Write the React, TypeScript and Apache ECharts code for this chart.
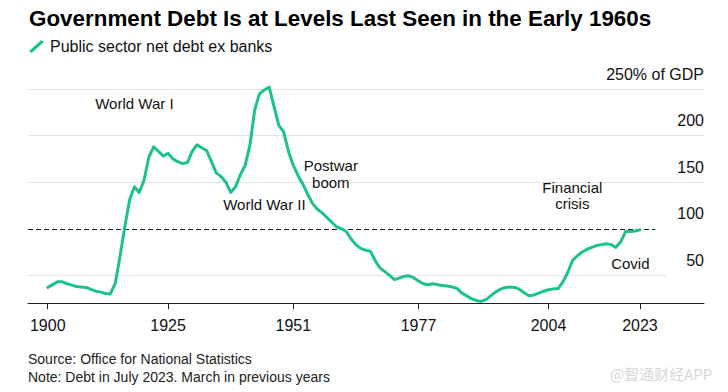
import React, { useEffect, useRef } from "react";
import * as echarts from "echarts";

const chartTitle = "Government Debt Is at Levels Last Seen in the Early 1960s";
const seriesName = "Public sector net debt ex banks";
const sourceText = "Source: Office for National Statistics";
const noteText = "Note: Debt in July 2023. March in previous years";
const watermarkText = "@智通财经APP";

const years = [
  1900, 1901, 1902, 1903, 1904, 1905, 1906, 1907, 1908, 1909,
  1910, 1911, 1912, 1913, 1914, 1915, 1916, 1917, 1918, 1919,
  1920, 1921, 1922, 1923, 1924, 1925, 1926, 1927, 1928, 1929,
  1930, 1931, 1932, 1933, 1934, 1935, 1936, 1937, 1938, 1939,
  1940, 1941, 1942, 1943, 1944, 1945, 1946, 1947, 1948, 1949,
  1950, 1951, 1952, 1953, 1954, 1955, 1956, 1957, 1958, 1959,
  1960, 1961, 1962, 1963, 1964, 1965, 1966, 1967, 1968, 1969,
  1970, 1971, 1972, 1973, 1974, 1975, 1976, 1977, 1978, 1979,
  1980, 1981, 1982, 1983, 1984, 1985, 1986, 1987, 1988, 1989,
  1990, 1991, 1992, 1993, 1994, 1995, 1996, 1997, 1998, 1999,
  2000, 2001, 2002, 2003, 2004, 2005, 2006, 2007, 2008, 2009,
  2010, 2011, 2012, 2013, 2014, 2015, 2016, 2017, 2018, 2019,
  2020, 2021, 2022, 2023,
];

const debtPctGdp = [
  37, 40, 43, 43, 41, 39.5, 38, 37.5, 37, 35,
  33, 32, 30.5, 30, 41, 70, 102, 131, 145, 139,
  152, 177, 188, 183, 178, 181, 175, 172, 170, 171,
  183, 190, 187, 184, 172, 160, 156, 150, 139, 145,
  158, 168, 190, 228, 245, 249, 252, 231, 211, 204,
  183, 168, 157, 148, 137, 127, 121, 117, 112, 107,
  102, 100, 97, 89, 83, 79, 77, 76, 66, 58,
  54, 50, 45.5, 47, 49, 49.5, 47.5, 44, 41, 40,
  41, 40, 39, 38.5, 37.5, 36, 31, 28, 25, 23,
  22, 24, 28, 32, 35, 37, 37.5, 37, 35, 31,
  28, 29, 31, 33, 34.5, 35.5, 35.7, 43, 53, 66,
  71, 75, 78, 80, 82, 83, 84, 83, 80, 86,
  97, 97, 97.5, 99,
];

const xTickYears = [1900, 1925, 1951, 1977, 2004, 2023];
const yLabelValues = [50, 100, 150, 200, 250];
const gridLineValues = [50, 150, 200, 250];
const referenceLevel = 100;

const annotationNames = ["World War I", "World War II", "Postwar\nboom", "Financial\ncrisis", "Covid"];
const annotationYears = [1918, 1945, 1958.8, 2008.95, 2021];
const annotationValues = [234.7, 126.5, 158.7, 135.7, 63.2];

const GREEN = "#1dc28b";
const FONT = "'Liberation Sans', Arial, Helvetica, sans-serif";
const X_MIN = 1895.9;
const X_MAX = 2036.3;
const GRID50_END = 2028.4;
const DASH_END = 2026.2;

export default function App() {
  const ref = useRef<HTMLDivElement>(null);

  useEffect(() => {
    if (!ref.current) return;
    const chart = echarts.init(ref.current, undefined, { renderer: "svg" });

    const lineData = years.map((y, i) => [y, debtPctGdp[i]]);

    const markLineData: any[] = gridLineValues.map((v) => [
      { coord: [X_MIN, v], lineStyle: { color: "#e3e3e3", width: 1, type: "solid" } },
      { coord: [v === 50 ? GRID50_END : X_MAX, v] },
    ]);
    markLineData.push([
      { coord: [X_MIN, referenceLevel], lineStyle: { color: "#222", width: 1.2, type: [5, 3] } },
      { coord: [DASH_END, referenceLevel] },
    ]);

    const option: any = {
      animation: false,
      textStyle: { fontFamily: FONT },
      grid: { left: 28, right: 24, top: 89, bottom: 88.7, containLabel: false },
      legend: {
        show: true,
        data: [seriesName],
        left: 29,
        top: 38.5,
        padding: 0,
        selectedMode: false,
        icon: "path://M0,11 L2.6,13 L15,2 L12.4,0 Z",
        itemWidth: 15,
        itemHeight: 13,
        itemStyle: { color: GREEN, borderWidth: 0 },
        textStyle: { fontSize: 16, color: "#111", fontFamily: FONT, padding: [0, 0, 0, 1] },
      },
      xAxis: {
        type: "value",
        min: X_MIN,
        max: X_MAX,
        axisLine: { show: true, onZero: false, lineStyle: { color: "#222", width: 1 } },
        axisTick: { show: true, customValues: xTickYears, length: 6, lineStyle: { color: "#222" } },
        axisLabel: {
          customValues: xTickYears,
          margin: 14,
          fontSize: 16,
          color: "#111",
          fontFamily: FONT,
          formatter: (v: number) => String(Math.round(v)),
        },
        splitLine: { show: false },
      },
      yAxis: {
        type: "value",
        position: "right",
        min: 20,
        max: 250,
        axisLine: { show: false },
        axisTick: { show: false },
        splitLine: { show: false },
        axisLabel: {
          customValues: yLabelValues,
          inside: true,
          margin: 0,
          align: "right",
          verticalAlign: "bottom",
          lineHeight: 16,
          padding: [0, 0, 7, 0],
          fontSize: 16,
          color: "#111",
          fontFamily: FONT,
          formatter: (v: number) =>
            v === 250 ? "250% of GDP" : yLabelValues.indexOf(v) >= 0 ? String(v) : "",
        },
      },
      series: [
        {
          name: "gridlines",
          type: "line",
          data: [],
          z: 1,
          silent: true,
          markLine: {
            silent: true,
            symbol: ["none", "none"],
            label: { show: false },
            data: markLineData,
          },
        },
        {
          name: seriesName,
          type: "line",
          data: lineData,
          symbol: "none",
          clip: false,
          z: 5,
          itemStyle: { color: GREEN },
          lineStyle: { color: GREEN, width: 3, cap: "round", join: "round" },
          markPoint: {
            silent: true,
            symbol: "circle",
            symbolSize: 0,
            label: {
              show: true,
              position: "inside",
              formatter: "{b}",
              fontSize: 15,
              lineHeight: 16.5,
              color: "#111",
              fontFamily: FONT,
              align: "center",
            },
            data: annotationNames.map((n, i) => ({
              name: n,
              coord: [annotationYears[i], annotationValues[i]],
            })),
          },
        },
      ],
      graphic: [
        {
          type: "text",
          left: 29,
          top: 7,
          style: {
            text: chartTitle,
            font: `bold 22.4px ${FONT}`,
            fill: "#000",
          },
        },
        {
          type: "text",
          left: 28,
          top: 352,
          style: { text: sourceText, font: `14px ${FONT}`, fill: "#222" },
        },
        {
          type: "text",
          left: 28,
          top: 369.5,
          style: { text: noteText, font: `14px ${FONT}`, fill: "#222" },
        },
        {
          type: "text",
          left: 610,
          top: 366,
          style: {
            text: watermarkText,
            font: `15px 'Noto Sans CJK SC', sans-serif`,
            fill: "#d6d6d6",
          },
        },
      ],
    };

    chart.setOption(option);
    return () => chart.dispose();
  }, []);

  return (
    <div
      ref={ref}
      style={{ position: "fixed", left: 0, top: 0, width: 728, height: 392, background: "#fff" }}
    />
  );
}
